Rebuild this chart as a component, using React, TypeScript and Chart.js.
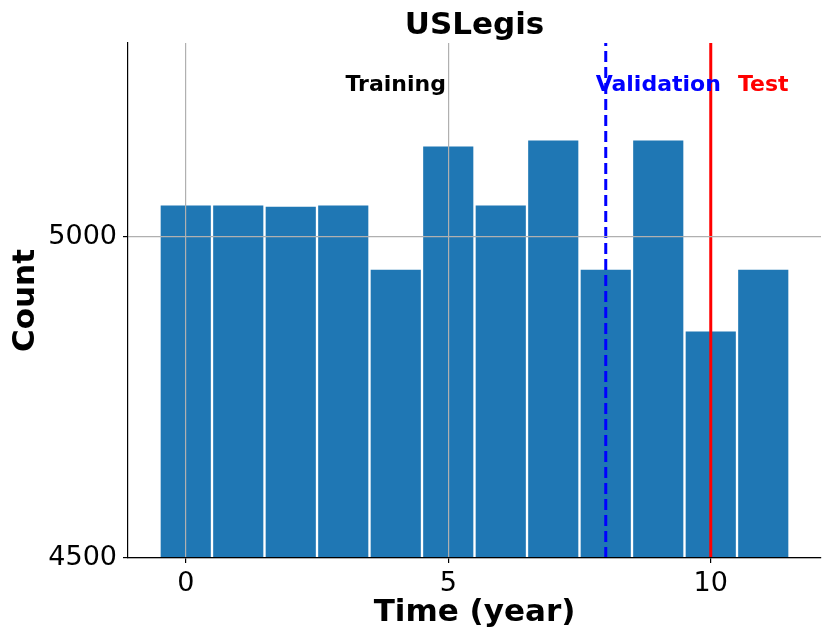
import React, { useEffect, useRef } from "react";
import { Chart, registerables } from "chart.js";

Chart.register(...registerables);

const years = [0, 1, 2, 3, 4, 5, 6, 7, 8, 9, 10, 11];
const counts = [5050, 5050, 5048, 5050, 4950, 5142, 5050, 5151, 4950, 5151, 4854, 4950];
const xTicks = [0, 5, 10];
const yTicks = [4500, 5000];
const splitNames = ["Training", "Validation", "Test"];
const splitLabelX = [4, 9, 11];
const splitLabelColors = ["#000000", "#0000ff", "#ff0000"];
const valStart = 8;
const testStart = 10;

const X_MIN = -1.1;
const X_MAX = 12.1;
const Y_MIN = 4500;
const Y_MAX = 5301;
const LABEL_Y = 5227;

const FONT = "'DejaVu Sans', sans-serif";
const GRID = "#b0b0b0";

// title centred over the axes (not the canvas) plus the split labels
const overlay = {
	id: "overlay",
	afterDatasetsDraw(chart: any) {
		const { ctx, scales, chartArea } = chart;
		ctx.save();
		ctx.font = `bold 22px ${FONT}`;
		ctx.textAlign = "center";
		ctx.textBaseline = "alphabetic";
		splitNames.forEach((name, i) => {
			ctx.fillStyle = splitLabelColors[i];
			ctx.fillText(name, scales.x.getPixelForValue(splitLabelX[i]), scales.y.getPixelForValue(LABEL_Y));
		});
		ctx.fillStyle = "#000";
		ctx.font = `bold 31px ${FONT}`;
		ctx.fillText("USLegis", (chartArea.left + chartArea.right) / 2, 34);
		ctx.restore();
	},
};

const App = () => {
	const canvasRef = useRef<HTMLCanvasElement>(null);

	useEffect(() => {
		if (!canvasRef.current) return;

		const chart = new Chart(canvasRef.current, {
			type: "bar",
			data: {
				datasets: [
					{
						type: "line",
						label: "Validation",
						data: [
							{ x: valStart, y: Y_MIN },
							{ x: valStart, y: Y_MAX },
						],
						borderColor: "#0000ff",
						borderWidth: 3,
						borderDash: [11, 5],
						pointRadius: 0,
						order: 0,
					} as any,
					{
						type: "line",
						label: "Test",
						data: [
							{ x: testStart, y: Y_MIN },
							{ x: testStart, y: Y_MAX },
						],
						borderColor: "#ff0000",
						borderWidth: 3,
						pointRadius: 0,
						order: 0,
					} as any,
					{
						type: "bar",
						label: "Count",
						data: years.map((x, i) => ({ x, y: counts[i] })),
						backgroundColor: "#1f77b4",
						borderColor: "#ffffff",
						borderWidth: 1.5,
						borderSkipped: false,
						barPercentage: 1,
						categoryPercentage: 1,
						order: 1,
					},
				],
			},
			options: {
				animation: false,
				responsive: true,
				maintainAspectRatio: false,
				devicePixelRatio: 1,
				layout: { padding: { left: 0, right: 9, top: 43, bottom: 0 } },
				plugins: {
					legend: { display: false },
					tooltip: { enabled: false },
					title: { display: false },
				},
				scales: {
					x: {
						type: "linear",
						min: X_MIN,
						max: X_MAX,
						offset: false,
						afterBuildTicks: (scale: any) => {
							scale.ticks = xTicks.map((value) => ({ value }));
						},
						afterFit: (scale: any) => {
							scale.height = 86;
						},
						ticks: {
							color: "#000",
							font: { family: FONT, size: 27 },
							padding: 5,
							callback: (v: any) => String(v),
						},
						grid: {
							offset: false,
							z: 1,
							// the test line sits on top of this grid line in the original
							color: (c: any) => (c.tick && c.tick.value === testStart ? "rgba(0,0,0,0)" : GRID),
							lineWidth: 1.2,
							tickColor: "#000",
							tickLength: 5,
						},
						border: { display: true, color: "#000", width: 1.2, z: 2 },
						title: {
							display: true,
							text: "Time (year)",
							color: "#000",
							font: { family: FONT, size: 31, weight: "bold" },
							padding: { top: 0, bottom: 12.4 },
						},
					},
					y: {
						type: "linear",
						min: Y_MIN,
						max: Y_MAX,
						afterBuildTicks: (scale: any) => {
							scale.ticks = yTicks.map((value) => ({ value }));
						},
						afterFit: (scale: any) => {
							scale.width = 128;
						},
						ticks: {
							color: "#000",
							font: { family: FONT, size: 27 },
							padding: 6,
							callback: (v: any) => String(v),
						},
						grid: {
							z: 1,
							color: GRID,
							lineWidth: 1.2,
							tickColor: "#000",
							tickLength: 5,
						},
						border: { display: true, color: "#000", width: 1.2, z: 2 },
						title: {
							display: true,
							text: "Count",
							color: "#000",
							font: { family: FONT, size: 31, weight: "bold" },
							padding: { top: 7, bottom: 0 },
						},
					},
				},
			},
			plugins: [overlay],
		});

		return () => {
			chart.destroy();
		};
	}, []);

	return (
		<div style={{ position: "absolute", left: 0, top: 0, width: 830, height: 644 }}>
			<canvas ref={canvasRef} />
		</div>
	);
};

export default App;
